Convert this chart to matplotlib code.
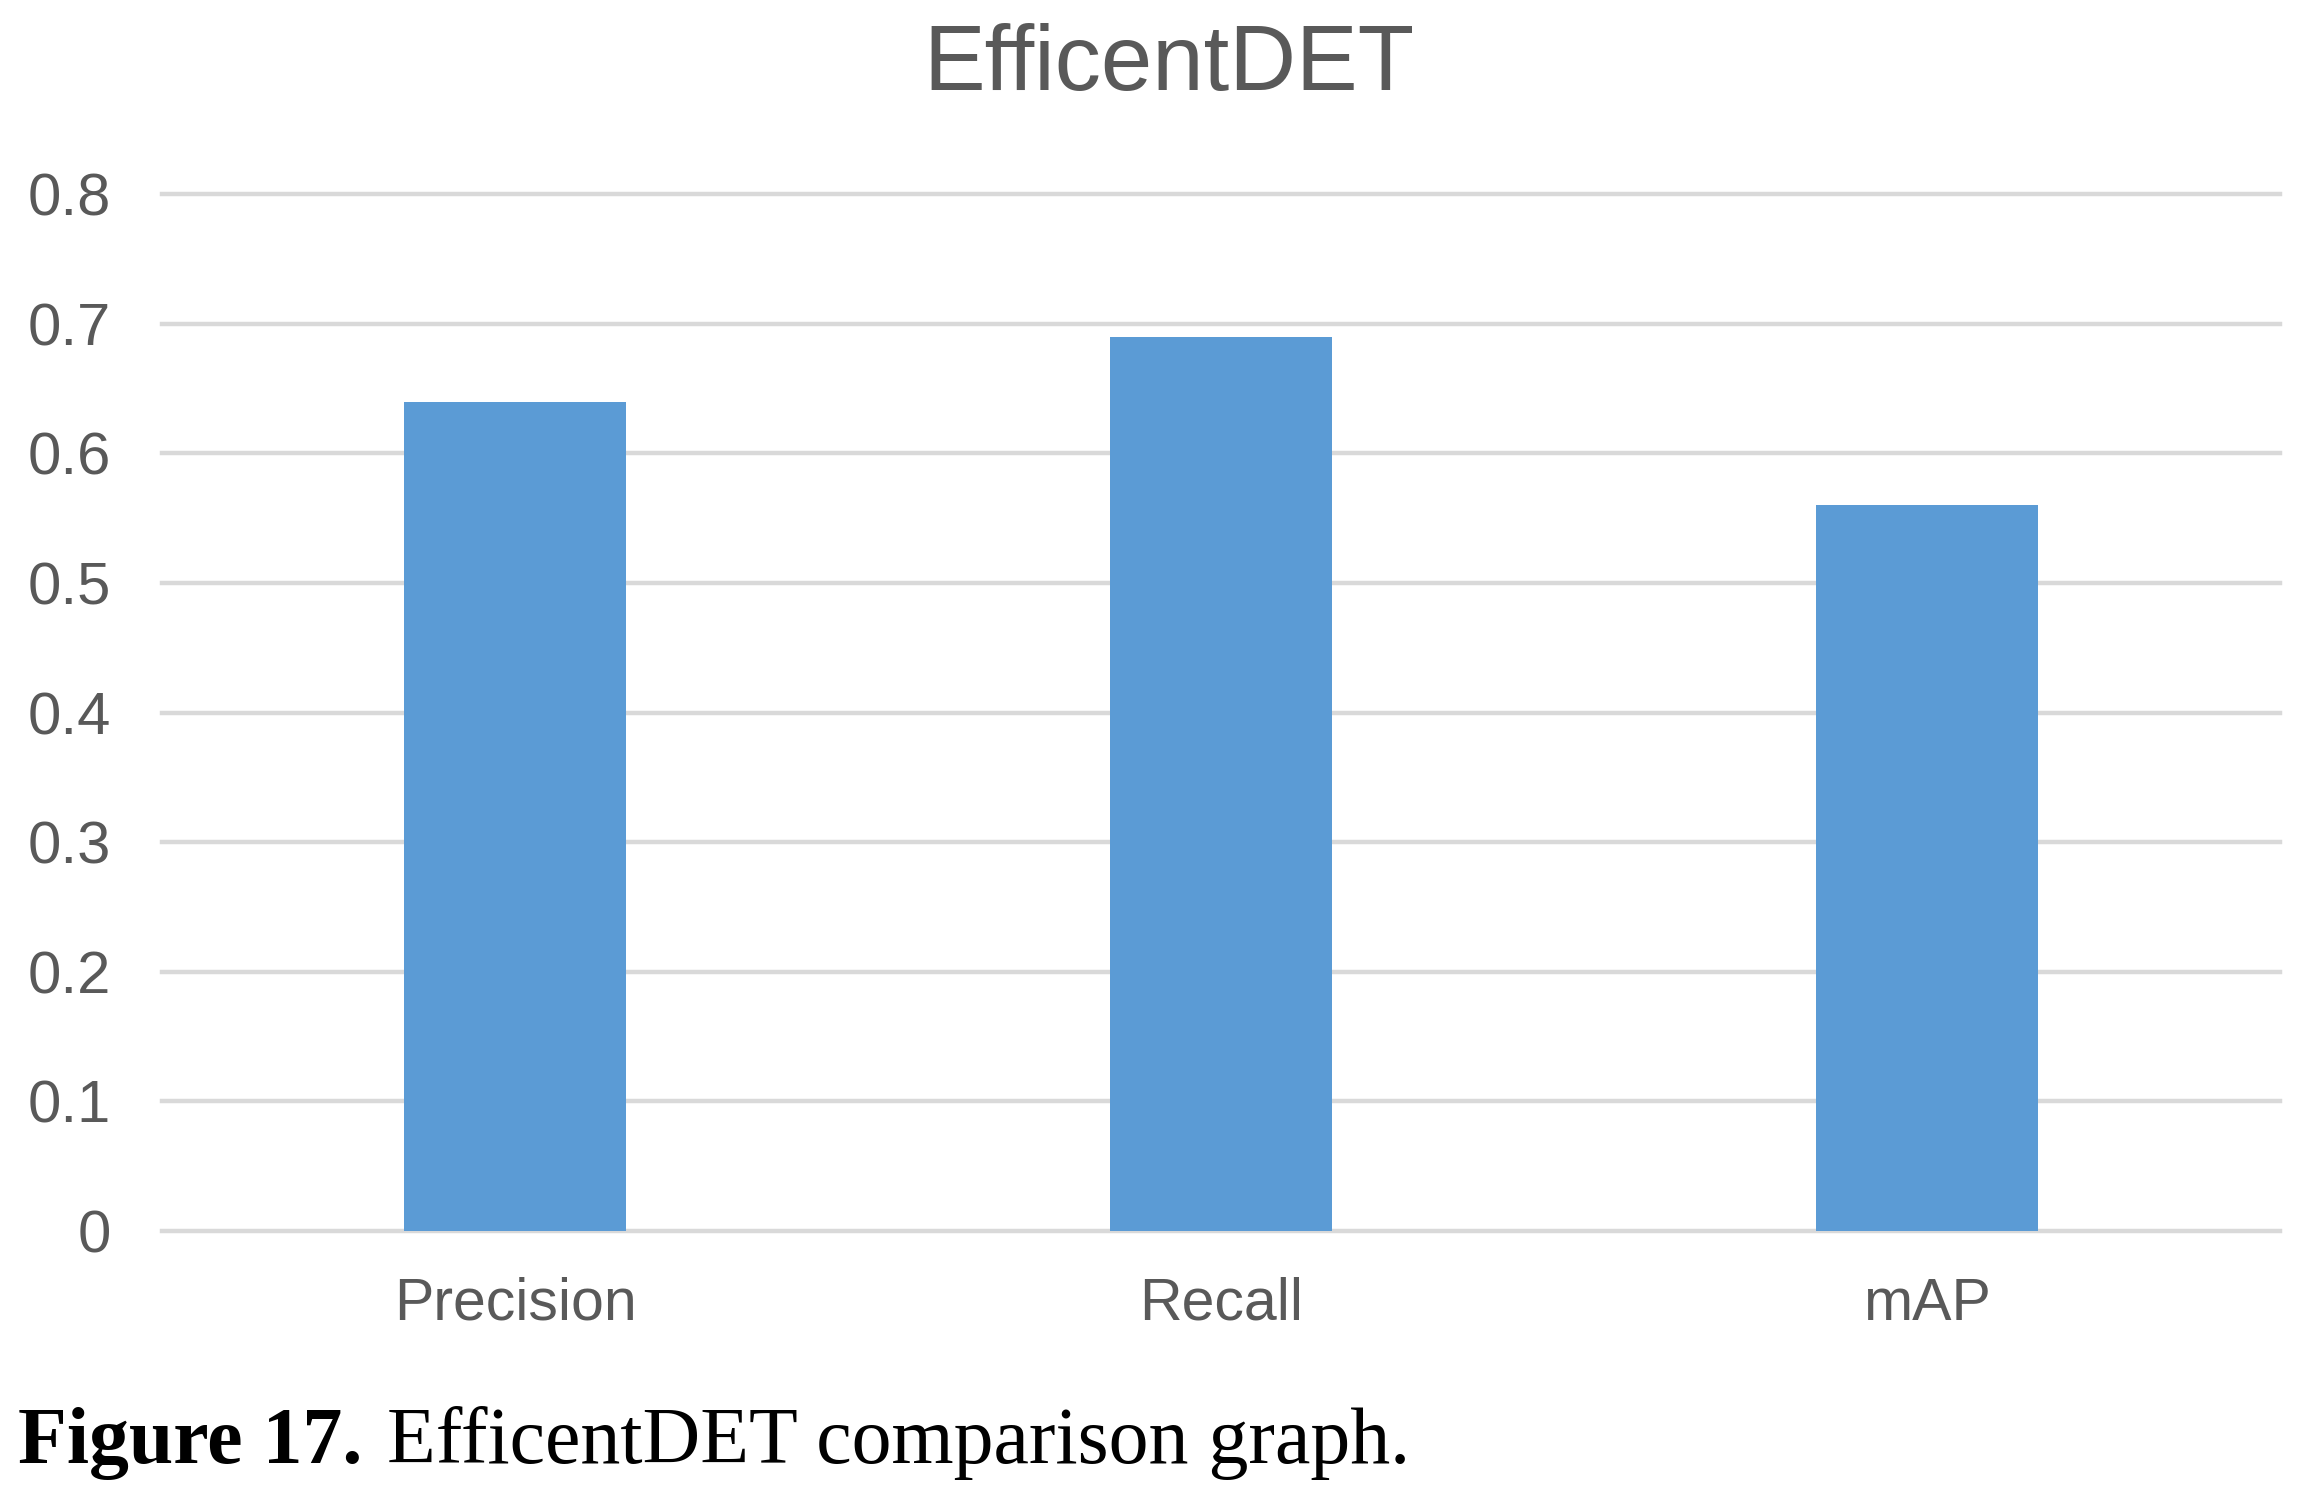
import matplotlib
matplotlib.use("Agg")
import matplotlib.pyplot as plt

categories = ["Precision", "Recall", "mAP"]
values = [0.64, 0.69, 0.56]
yticks = [0, 0.1, 0.2, 0.3, 0.4, 0.5, 0.6, 0.7, 0.8]
ytick_labels = ["0", "0.1", "0.2", "0.3", "0.4", "0.5", "0.6", "0.7", "0.8"]
title = "EfficentDET"
caption_bold = "Figure 17."
caption_rest = "EfficentDET comparison graph."

plt.rcParams["font.family"] = ["Liberation Sans", "DejaVu Sans"]
grey = "#595959"

fig = plt.figure(figsize=(23.02, 14.94), dpi=100)
ax = fig.add_axes([0.0704, 0.176, 0.9200, 0.694])

x = range(len(categories))
ax.bar(x, values, width=0.315, color="#5b9bd5", zorder=3)
ax.set_xlim(-0.5, len(categories) - 0.5)
ax.set_ylim(0, 0.8)
ax.set_xticks(list(x))
ax.set_xticklabels(categories, fontsize=42.5, color=grey)
ax.set_yticks(yticks)
ax.set_yticklabels(ytick_labels, fontsize=43, color=grey)
ax.tick_params(axis="both", length=0)
ax.tick_params(axis="y", pad=37)
ax.tick_params(axis="x", pad=33)
for s in ax.spines.values():
    s.set_visible(False)
ax.yaxis.grid(True, color="#d9d9d9", linewidth=3.2, zorder=0)
ax.set_axisbelow(True)
for gl in ax.get_ygridlines():
    gl.set_clip_on(False)

fig.text(0.508, 0.956, title, fontsize=66.5, color=grey, ha="center", va="center")

t1 = fig.text(0.008, 0.021, caption_bold, fontsize=57.5, fontweight="bold",
              family="Liberation Serif", color="black", va="baseline")
fig.canvas.draw()
bb = t1.get_window_extent()
x1 = (bb.x1 + 24) / fig.bbox.width
fig.text(x1, 0.021, caption_rest, fontsize=57.5, family="Liberation Serif",
         color="black", va="baseline")

fig.savefig("out.png", dpi=100)
